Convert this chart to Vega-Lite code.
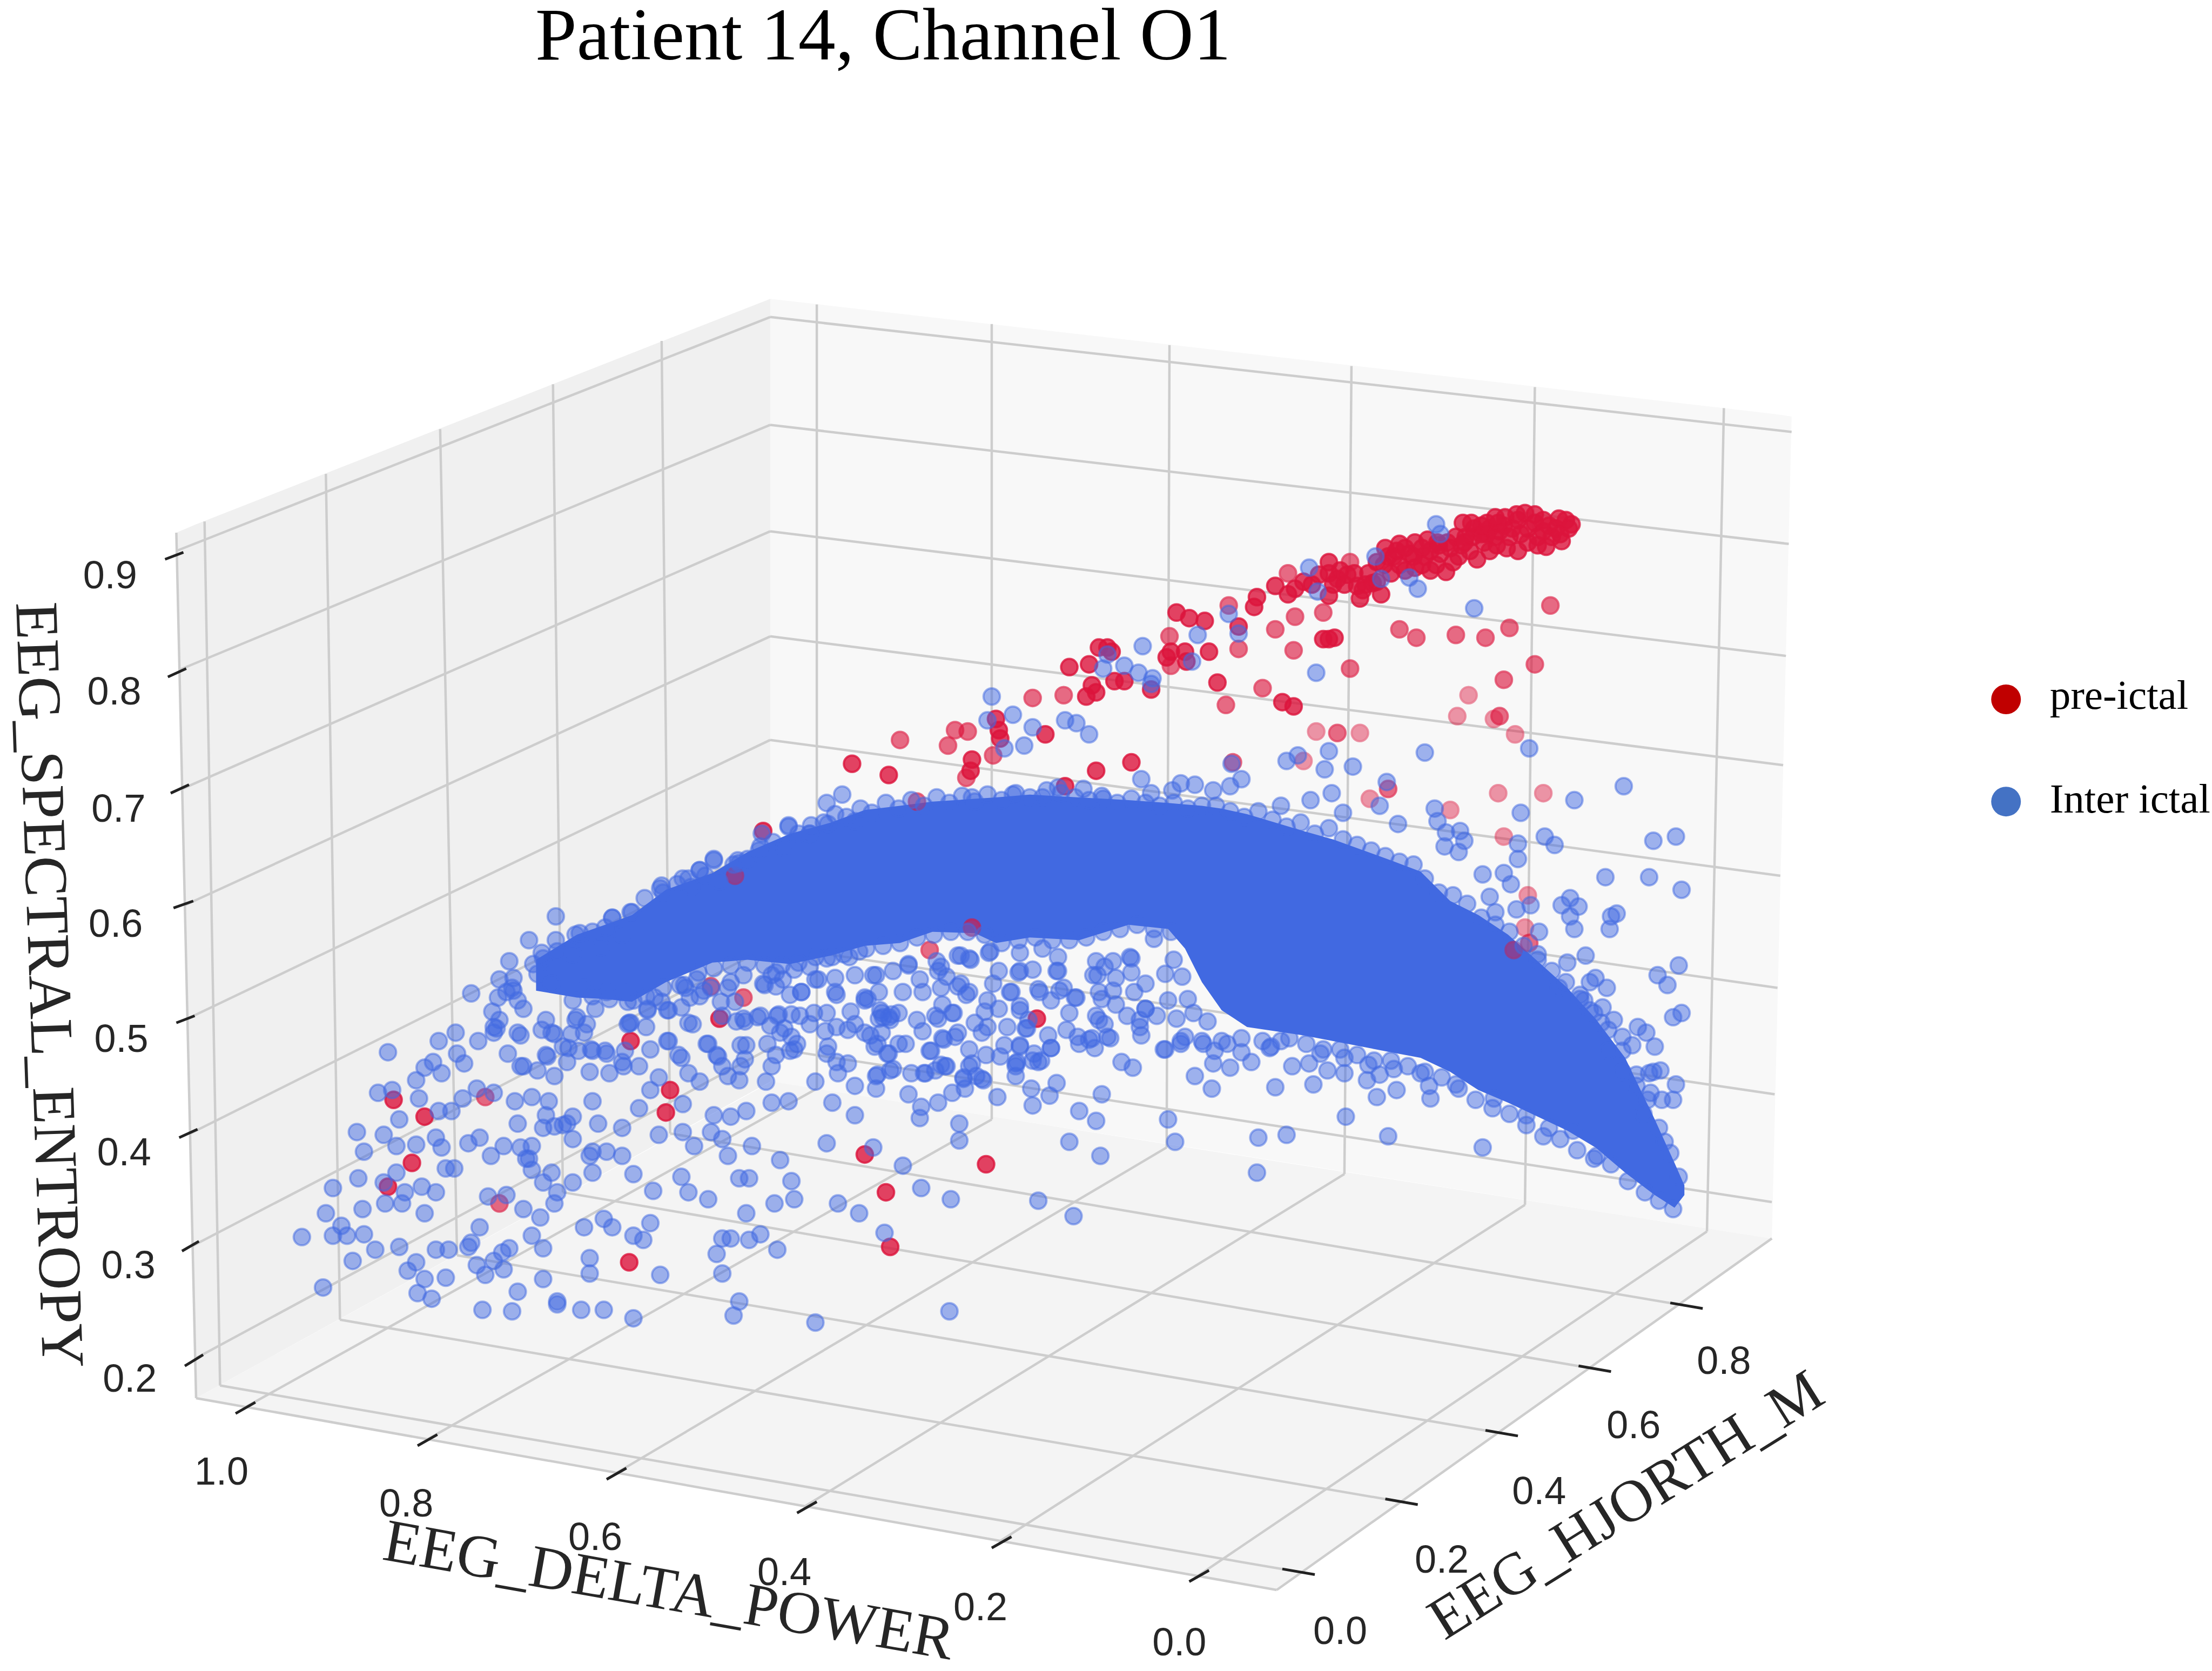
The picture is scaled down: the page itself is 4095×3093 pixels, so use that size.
{"$schema":"https://vega.github.io/schema/vega-lite/v6.json","width":4095,"height":3093,"autosize":{"type":"fit","contains":"padding"},"padding":0,"background":"white","config":{"view":{"stroke":null}},
"datasets":{
"panes":[{"pane":"left","x":125,"y":375,"y2":375},{"pane":"left","x":139,"y":369,"y2":993},{"pane":"left","x":546,"y":208,"y2":767},{"pane":"right","x":546,"y":208,"y2":767},{"pane":"right","x":1256,"y":290,"y2":879},{"pane":"right","x":1270,"y":292,"y2":292},{"pane":"floor","x":139,"y":993,"y2":993},{"pane":"floor","x":547,"y":767,"y2":1066},{"pane":"floor","x":905,"y":824,"y2":1130},{"pane":"floor","x":1256,"y":879,"y2":879}],
"grid":[{"x":125,"y":388,"x2":546,"y2":221},{"x":127,"y":473,"x2":546,"y2":298},{"x":129,"y":558,"x2":546,"y2":374},{"x":131,"y":641,"x2":546,"y2":449},{"x":133,"y":722,"x2":546,"y2":523},{"x":135,"y":804,"x2":546,"y2":597},{"x":137,"y":884,"x2":546,"y2":670},{"x":138,"y":965,"x2":546,"y2":743},
{"x":546,"y":221,"x2":1270,"y2":303},{"x":546,"y":298,"x2":1268,"y2":383},{"x":546,"y":374,"x2":1266,"y2":463},{"x":546,"y":449,"x2":1264,"y2":541},{"x":546,"y":523,"x2":1262,"y2":620},{"x":546,"y":597,"x2":1260,"y2":700},{"x":546,"y":670,"x2":1258,"y2":776},{"x":546,"y":743,"x2":1256,"y2":853},
{"x":145,"y":367,"x2":156,"y2":984},{"x":231,"y":333,"x2":241,"y2":937},{"x":312,"y":301,"x2":324,"y2":891},{"x":392,"y":269,"x2":399,"y2":846},{"x":469,"y":238,"x2":475,"y2":804},
{"x":579,"y":212,"x2":579,"y2":772},{"x":703,"y":226,"x2":703,"y2":794},{"x":829,"y":241,"x2":827,"y2":814},{"x":958,"y":256,"x2":953,"y2":833},{"x":1088,"y":271,"x2":1081,"y2":855},{"x":1222,"y":286,"x2":1210,"y2":874},
{"x":173,"y":1000,"x2":579,"y2":772},{"x":302,"y":1023,"x2":703,"y2":794},{"x":436,"y":1047,"x2":827,"y2":814},{"x":571,"y":1070,"x2":953,"y2":833},{"x":709,"y":1095,"x2":1081,"y2":855},{"x":849,"y":1120,"x2":1210,"y2":874},
{"x":920,"y":1117,"x2":156,"y2":984},{"x":993,"y":1067,"x2":241,"y2":937},{"x":1064,"y":1018,"x2":324,"y2":891},{"x":1130,"y":972,"x2":399,"y2":846},{"x":1195,"y":927,"x2":475,"y2":804},
{"x":125,"y":375,"x2":139,"y2":993},{"x":139,"y":993,"x2":905,"y2":1130},{"x":905,"y":1130,"x2":1256,"y2":879}],
"ticks":[{"x":117,"y":394,"x2":130,"y2":389},{"x":119,"y":478,"x2":132,"y2":472},{"x":121,"y":561,"x2":134,"y2":555},{"x":123,"y":643,"x2":137,"y2":638},{"x":125,"y":725,"x2":138,"y2":720},{"x":127,"y":807,"x2":140,"y2":801},{"x":129,"y":888,"x2":141,"y2":881},{"x":131,"y":970,"x2":144,"y2":962},
{"x":167,"y":1004,"x2":181,"y2":996},{"x":296,"y":1027,"x2":310,"y2":1019},{"x":430,"y":1051,"x2":444,"y2":1043},{"x":565,"y":1075,"x2":579,"y2":1067},{"x":703,"y":1100,"x2":717,"y2":1092},{"x":843,"y":1124,"x2":857,"y2":1116},
{"x":909,"y":1115,"x2":932,"y2":1119},{"x":982,"y":1065,"x2":1005,"y2":1069},{"x":1053,"y":1016,"x2":1076,"y2":1020},{"x":1119,"y":970,"x2":1142,"y2":974},{"x":1184,"y":925,"x2":1207,"y2":929}],
"tickLabels":[{"x":78,"y":403,"label":"0.9"},{"x":81,"y":486,"label":"0.8"},{"x":84,"y":570,"label":"0.7"},{"x":82,"y":652,"label":"0.6"},{"x":86,"y":734,"label":"0.5"},{"x":88,"y":815,"label":"0.4"},{"x":91,"y":896,"label":"0.3"},{"x":92,"y":977,"label":"0.2"},
{"x":157,"y":1043,"label":"1.0"},{"x":288,"y":1066,"label":"0.8"},{"x":422,"y":1090,"label":"0.6"},{"x":556,"y":1115,"label":"0.4"},{"x":695,"y":1140,"label":"0.2"},{"x":836,"y":1165,"label":"0.0"},
{"x":1222,"y":964,"label":"0.8"},{"x":1158,"y":1010,"label":"0.6"},{"x":1091,"y":1057,"label":"0.4"},{"x":1022,"y":1106,"label":"0.2"},{"x":950,"y":1157,"label":"0.0"}],
"dense":[{"x":380,"y":680,"y2":702},{"x":409,"y":662,"y2":707},{"x":429,"y":655,"y2":708},{"x":448,"y":648,"y2":710},{"x":472,"y":630,"y2":696},{"x":505,"y":618,"y2":682},{"x":530,"y":603,"y2":680},{"x":560,"y":590,"y2":683},{"x":589,"y":582,"y2":677},{"x":613,"y":573,"y2":670},{"x":638,"y":570,"y2":668},{"x":661,"y":567,"y2":660},{"x":691,"y":565,"y2":661},{"x":706,"y":564,"y2":668},{"x":730,"y":562,"y2":664},{"x":765,"y":564,"y2":666},{"x":800,"y":566,"y2":655},{"x":828,"y":568,"y2":658},{"x":840,"y":569,"y2":672},{"x":852,"y":570,"y2":696},{"x":866,"y":572,"y2":716},{"x":884,"y":576,"y2":728},{"x":924,"y":588,"y2":734},{"x":945,"y":594,"y2":738},{"x":986,"y":609,"y2":746},{"x":1007,"y":617,"y2":750},{"x":1028,"y":638,"y2":760},{"x":1048,"y":648,"y2":773},{"x":1069,"y":662,"y2":782},{"x":1111,"y":700,"y2":802},{"x":1131,"y":722,"y2":814},{"x":1152,"y":750,"y2":832},{"x":1173,"y":794,"y2":848},{"x":1187,"y":825,"y2":857},{"x":1194,"y":841,"y2":848}],
"preictal":[{"x":1114,"y":369,"depth":2},{"x":1105,"y":365,"depth":2},{"x":1094,"y":366,"depth":2},{"x":1081,"y":361,"depth":2},{"x":1067,"y":364,"depth":2},{"x":1054,"y":368,"depth":2},{"x":1037,"y":368,"depth":2},{"x":1103,"y":372,"depth":2},{"x":1094,"y":374,"depth":2},{"x":1107,"y":381,"depth":2},{"x":1096,"y":385,"depth":2},{"x":1083,"y":382,"depth":2},{"x":1076,"y":388,"depth":2},{"x":1083,"y":372,"depth":2},{"x":1072,"y":372,"depth":2},{"x":1063,"y":374,"depth":2},{"x":1054,"y":376,"depth":2},{"x":1045,"y":372,"depth":2},{"x":1039,"y":378,"depth":2},{"x":1052,"y":382,"depth":2},{"x":1061,"y":384,"depth":2},{"x":1047,"y":394,"depth":2},{"x":1036,"y":384,"depth":2},{"x":1028,"y":386,"depth":2},{"x":1019,"y":382,"depth":2},{"x":1012,"y":380,"depth":2},{"x":1003,"y":382,"depth":2},{"x":992,"y":383,"depth":2},{"x":982,"y":386,"depth":2},{"x":988,"y":392,"depth":2},{"x":999,"y":390,"depth":2},{"x":1010,"y":392,"depth":2},{"x":1021,"y":390,"depth":2},{"x":1025,"y":403,"depth":2},{"x":1014,"y":402,"depth":2},{"x":1003,"y":400,"depth":2},{"x":992,"y":398,"depth":2},{"x":981,"y":398,"depth":2},{"x":970,"y":404,"depth":2},{"x":979,"y":419,"depth":2},{"x":964,"y":422,"depth":2},{"x":973,"y":411,"depth":2},{"x":962,"y":413,"depth":2},{"x":957,"y":396,"depth":1},{"x":942,"y":396,"depth":2},{"x":942,"y":404,"depth":2},{"x":948,"y":408,"depth":2},{"x":953,"y":412,"depth":2},{"x":924,"y":410,"depth":2},{"x":913,"y":404,"depth":1},{"x":904,"y":413,"depth":2},{"x":913,"y":419,"depth":2},{"x":918,"y":415,"depth":2},{"x":942,"y":420,"depth":2},{"x":938,"y":432,"depth":1},{"x":891,"y":421,"depth":2},{"x":889,"y":428,"depth":2},{"x":871,"y":427,"depth":1},{"x":918,"y":435,"depth":1},{"x":904,"y":444,"depth":1},{"x":878,"y":442,"depth":2},{"x":878,"y":458,"depth":1},{"x":917,"y":459,"depth":1},{"x":938,"y":451,"depth":2},{"x":946,"y":450,"depth":2},{"x":942,"y":451,"depth":2},{"x":834,"y":432,"depth":2},{"x":843,"y":436,"depth":2},{"x":854,"y":438,"depth":2},{"x":857,"y":460,"depth":2},{"x":840,"y":460,"depth":2},{"x":830,"y":460,"depth":2},{"x":829,"y":449,"depth":1},{"x":827,"y":464,"depth":2},{"x":830,"y":470,"depth":1},{"x":841,"y":467,"depth":2},{"x":785,"y":457,"depth":2},{"x":779,"y":457,"depth":2},{"x":788,"y":460,"depth":2},{"x":772,"y":469,"depth":2},{"x":758,"y":471,"depth":2},{"x":790,"y":481,"depth":2},{"x":797,"y":481,"depth":2},{"x":774,"y":484,"depth":2},{"x":777,"y":489,"depth":2},{"x":770,"y":492,"depth":2},{"x":816,"y":487,"depth":2},{"x":754,"y":491,"depth":1},{"x":732,"y":493,"depth":1},{"x":863,"y":482,"depth":2},{"x":895,"y":486,"depth":1},{"x":869,"y":498,"depth":1},{"x":909,"y":496,"depth":2},{"x":917,"y":499,"depth":2},{"x":957,"y":472,"depth":1},{"x":1088,"y":469,"depth":1},{"x":1066,"y":480,"depth":1},{"x":1041,"y":491,"depth":0},{"x":1033,"y":506,"depth":0},{"x":1059,"y":508,"depth":0},{"x":1063,"y":506,"depth":1},{"x":1074,"y":519,"depth":0},{"x":992,"y":444,"depth":1},{"x":1004,"y":450,"depth":1},{"x":1032,"y":448,"depth":1},{"x":1053,"y":450,"depth":1},{"x":1070,"y":443,"depth":1},{"x":1099,"y":427,"depth":1},{"x":706,"y":508,"depth":2},{"x":708,"y":516,"depth":2},{"x":709,"y":522,"depth":2},{"x":677,"y":516,"depth":1},{"x":686,"y":517,"depth":1},{"x":672,"y":527,"depth":1},{"x":741,"y":519,"depth":2},{"x":704,"y":534,"depth":1},{"x":689,"y":537,"depth":2},{"x":688,"y":545,"depth":2},{"x":685,"y":550,"depth":1},{"x":755,"y":556,"depth":2},{"x":777,"y":545,"depth":2},{"x":802,"y":539,"depth":2},{"x":924,"y":538,"depth":0},{"x":933,"y":517,"depth":0},{"x":948,"y":518,"depth":1},{"x":964,"y":518,"depth":0},{"x":971,"y":565,"depth":0},{"x":984,"y":558,"depth":1},{"x":1028,"y":573,"depth":0},{"x":1062,"y":561,"depth":0},{"x":1094,"y":561,"depth":0},{"x":1066,"y":592,"depth":0},{"x":874,"y":539,"depth":1},{"x":1083,"y":634,"depth":0},{"x":1081,"y":657,"depth":0},{"x":1084,"y":668,"depth":1},{"x":1073,"y":673,"depth":0},{"x":638,"y":523,"depth":1},{"x":630,"y":548,"depth":2},{"x":650,"y":567,"depth":1},{"x":604,"y":540,"depth":2},{"x":541,"y":588,"depth":2},{"x":521,"y":620,"depth":0},{"x":504,"y":699,"depth":1},{"x":527,"y":707,"depth":1},{"x":510,"y":722,"depth":2},{"x":447,"y":738,"depth":2},{"x":475,"y":773,"depth":2},{"x":472,"y":789,"depth":2},{"x":279,"y":780,"depth":2},{"x":301,"y":792,"depth":2},{"x":344,"y":778,"depth":1},{"x":292,"y":825,"depth":2},{"x":275,"y":842,"depth":2},{"x":354,"y":854,"depth":1},{"x":446,"y":896,"depth":2},{"x":613,"y":819,"depth":2},{"x":699,"y":826,"depth":2},{"x":628,"y":846,"depth":2},{"x":631,"y":885,"depth":2},{"x":735,"y":722,"depth":2},{"x":659,"y":673,"depth":1},{"x":689,"y":657,"depth":1},
{"x":976,"y":396,"depth":2},{"x":984,"y":392,"depth":2},{"x":990,"y":388,"depth":2},{"x":996,"y":386,"depth":2},{"x":1002,"y":392,"depth":2},{"x":1008,"y":386,"depth":2},{"x":1014,"y":388,"depth":2},{"x":1020,"y":384,"depth":2},{"x":1026,"y":382,"depth":2},{"x":1032,"y":378,"depth":2},{"x":1038,"y":382,"depth":2},{"x":1044,"y":378,"depth":2},{"x":1050,"y":376,"depth":2},{"x":1056,"y":372,"depth":2},{"x":1060,"y":378,"depth":2},{"x":1066,"y":370,"depth":2},{"x":1070,"y":378,"depth":2},{"x":1076,"y":366,"depth":2},{"x":1078,"y":376,"depth":2},{"x":1088,"y":368,"depth":2},{"x":1090,"y":378,"depth":2},{"x":1098,"y":370,"depth":2},{"x":1100,"y":378,"depth":2},{"x":1110,"y":366,"depth":2},{"x":1042,"y":388,"depth":2},{"x":1034,"y":392,"depth":2},{"x":1030,"y":396,"depth":2},{"x":1018,"y":398,"depth":2},{"x":1008,"y":398,"depth":2},{"x":996,"y":402,"depth":2},{"x":986,"y":404,"depth":2},{"x":976,"y":410,"depth":2},{"x":968,"y":412,"depth":2},{"x":966,"y":416,"depth":2},{"x":1056,"y":388,"depth":2},{"x":1068,"y":386,"depth":2},{"x":1062,"y":368,"depth":2},{"x":1050,"y":370,"depth":2},{"x":1043,"y":368,"depth":2},{"x":1088,"y":362,"depth":2},{"x":1075,"y":362,"depth":2},{"x":1060,"y":364,"depth":2},{"x":1112,"y":372,"depth":2},{"x":1106,"y":376,"depth":2},{"x":1090,"y":384,"depth":2},{"x":950,"y":402,"depth":2},{"x":945,"y":412,"depth":2},{"x":935,"y":405,"depth":2},{"x":930,"y":412,"depth":2},{"x":955,"y":405,"depth":2},{"x":960,"y":404,"depth":2}],
"interictal":[{"x":214,"y":878},{"x":229,"y":914},{"x":231,"y":861},{"x":236,"y":843},{"x":236,"y":877},{"x":242,"y":870},{"x":246,"y":877},{"x":258,"y":876},{"x":257,"y":858},{"x":254,"y":836},{"x":253,"y":803},{"x":258,"y":817},{"x":272,"y":805},{"x":281,"y":813},{"x":295,"y":812},{"x":309,"y":807},{"x":313,"y":814},{"x":272,"y":839},{"x":273,"y":854},{"x":281,"y":832},{"x":287,"y":846},{"x":285,"y":854},{"x":299,"y":842},{"x":301,"y":861},{"x":309,"y":846},{"x":316,"y":829},{"x":322,"y":829},{"x":332,"y":811},{"x":340,"y":807},{"x":348,"y":820},{"x":357,"y":813},{"x":369,"y":814},{"x":377,"y":813},{"x":375,"y":822},{"x":385,"y":800},{"x":393,"y":799},{"x":399,"y":798},{"x":406,"y":792},{"x":420,"y":817},{"x":424,"y":797},{"x":441,"y":800},{"x":430,"y":817},{"x":441,"y":820},{"x":449,"y":833},{"x":463,"y":845},{"x":488,"y":846},{"x":502,"y":851},{"x":524,"y":836},{"x":531,"y":836},{"x":549,"y":854},{"x":563,"y":851},{"x":561,"y":838},{"x":553,"y":823},{"x":533,"y":813},{"x":516,"y":820},{"x":492,"y":813},{"x":483,"y":835},{"x":484,"y":803},{"x":467,"y":805},{"x":461,"y":773},{"x":467,"y":764},{"x":453,"y":786},{"x":484,"y":783},{"x":506,"y":791},{"x":518,"y":792},{"x":504,"y":803},{"x":512,"y":808},{"x":496,"y":767},{"x":516,"y":763},{"x":524,"y":766},{"x":547,"y":782},{"x":559,"y":781},{"x":529,"y":788},{"x":543,"y":767},{"x":525,"y":741},{"x":508,"y":748},{"x":502,"y":740},{"x":473,"y":738},{"x":483,"y":750},{"x":447,"y":725},{"x":430,"y":747},{"x":420,"y":745},{"x":410,"y":745},{"x":399,"y":742},{"x":387,"y":748},{"x":369,"y":756},{"x":381,"y":759},{"x":393,"y":763},{"x":418,"y":760},{"x":432,"y":761},{"x":389,"y":781},{"x":367,"y":797},{"x":387,"y":791},{"x":420,"y":781},{"x":402,"y":797},{"x":268,"y":775},{"x":278,"y":773},{"x":283,"y":794},{"x":311,"y":788},{"x":320,"y":788},{"x":297,"y":779},{"x":295,"y":766},{"x":301,"y":757},{"x":311,"y":738},{"x":307,"y":753},{"x":313,"y":761},{"x":328,"y":779},{"x":338,"y":772},{"x":350,"y":775},{"x":365,"y":781},{"x":377,"y":778},{"x":324,"y":747},{"x":323,"y":732},{"x":329,"y":754},{"x":339,"y":738},{"x":350,"y":732},{"x":354,"y":723},{"x":334,"y":704},{"x":354,"y":694},{"x":361,"y":681},{"x":375,"y":666},{"x":394,"y":649},{"x":434,"y":650},{"x":447,"y":646},{"x":275,"y":746},{"x":266,"y":887},{"x":250,"y":895},{"x":283,"y":885},{"x":289,"y":902},{"x":295,"y":896},{"x":301,"y":908},{"x":316,"y":907},{"x":296,"y":918},{"x":306,"y":922},{"x":309,"y":887},{"x":318,"y":887},{"x":332,"y":885},{"x":340,"y":871},{"x":334,"y":882},{"x":338,"y":898},{"x":344,"y":905},{"x":350,"y":895},{"x":357,"y":901},{"x":361,"y":886},{"x":356,"y":889},{"x":367,"y":917},{"x":342,"y":930},{"x":363,"y":931},{"x":385,"y":886},{"x":377,"y":877},{"x":385,"y":908},{"x":395,"y":926},{"x":395,"y":924},{"x":412,"y":930},{"x":428,"y":930},{"x":449,"y":936},{"x":418,"y":893},{"x":418,"y":904},{"x":468,"y":905},{"x":414,"y":871},{"x":428,"y":865},{"x":434,"y":871},{"x":449,"y":877},{"x":456,"y":880},{"x":461,"y":868},{"x":512,"y":904},{"x":508,"y":890},{"x":512,"y":879},{"x":518,"y":879},{"x":531,"y":880},{"x":539,"y":876},{"x":551,"y":887},{"x":524,"y":924},{"x":520,"y":934},{"x":578,"y":939},{"x":594,"y":854},{"x":609,"y":861},{"x":529,"y":861},{"x":383,"y":864},{"x":371,"y":858},{"x":395,"y":846},{"x":393,"y":854},{"x":406,"y":839},{"x":420,"y":832},{"x":418,"y":820},{"x":406,"y":808},{"x":391,"y":832},{"x":385,"y":839},{"x":377,"y":830},{"x":373,"y":822},{"x":359,"y":848},{"x":346,"y":849},
{"x":606,"y":770},{"x":586,"y":747},{"x":594,"y":761},{"x":606,"y":726},{"x":574,"y":726},{"x":553,"y":732},{"x":563,"y":744},{"x":578,"y":767},{"x":590,"y":782},{"x":606,"y":791},{"x":586,"y":811},{"x":586,"y":718},{"x":567,"y":720},{"x":551,"y":720},{"x":541,"y":697},{"x":568,"y":703},{"x":592,"y":703},{"x":606,"y":691},{"x":555,"y":694},{"x":578,"y":694},{"x":527,"y":722},{"x":539,"y":720},{"x":512,"y":720},{"x":488,"y":725},{"x":473,"y":716},{"x":486,"y":700},{"x":496,"y":706},{"x":516,"y":700},{"x":459,"y":716},{"x":445,"y":726},{"x":422,"y":715},{"x":408,"y":723},{"x":387,"y":723},{"x":367,"y":732},{"x":391,"y":732},{"x":414,"y":732},{"x":352,"y":729},{"x":402,"y":753},{"x":441,"y":753},{"x":453,"y":756},{"x":488,"y":761},{"x":461,"y":744},{"x":512,"y":756},{"x":525,"y":756},{"x":547,"y":756},{"x":363,"y":700},{"x":367,"y":709},{"x":359,"y":703},{"x":381,"y":690},{"x":385,"y":679},{"x":395,"y":674},{"x":408,"y":662},{"x":406,"y":676},{"x":426,"y":671},{"x":441,"y":662},{"x":457,"y":636},{"x":469,"y":627},{"x":484,"y":622},{"x":496,"y":616},{"x":506,"y":609},{"x":524,"y":611},{"x":539,"y":599},{"x":559,"y":584},{"x":586,"y":568},{"x":597,"y":562},{"x":574,"y":590},{"x":391,"y":697},{"x":371,"y":715},{"x":414,"y":700},{"x":430,"y":703},{"x":449,"y":709},{"x":469,"y":710},{"x":406,"y":709},{"x":441,"y":703},{"x":504,"y":700},{"x":527,"y":691},{"x":547,"y":691},{"x":574,"y":685},{"x":598,"y":676},{"x":609,"y":674},{"x":586,"y":679},{"x":563,"y":687},
{"x":353,"y":707},{"x":364,"y":693},{"x":364,"y":702},{"x":349,"y":717},{"x":350,"y":728},{"x":360,"y":747},{"x":369,"y":734},{"x":384,"y":730},{"x":393,"y":733},{"x":388,"y":749},{"x":371,"y":756},{"x":403,"y":743},{"x":405,"y":733},{"x":409,"y":721},{"x":416,"y":726},{"x":419,"y":744},{"x":429,"y":745},{"x":442,"y":756},{"x":443,"y":745},{"x":446,"y":725},{"x":458,"y":728},{"x":459,"y":715},{"x":474,"y":716},{"x":483,"y":714},{"x":491,"y":726},{"x":474,"y":738},{"x":481,"y":748},{"x":501,"y":740},{"x":509,"y":749},{"x":529,"y":741},{"x":528,"y":751},{"x":544,"y":740},{"x":550,"y":748},{"x":565,"y":740},{"x":560,"y":745},{"x":585,"y":731},{"x":587,"y":742},{"x":593,"y":753},{"x":601,"y":754},{"x":601,"y":730},{"x":613,"y":732},{"x":622,"y":740},{"x":630,"y":721},{"x":624,"y":716},{"x":603,"y":717},{"x":593,"y":728},{"x":613,"y":707},{"x":593,"y":705},{"x":577,"y":718},{"x":561,"y":719},{"x":552,"y":719},{"x":537,"y":721},{"x":522,"y":724},{"x":528,"y":724},{"x":546,"y":727},{"x":556,"y":729},{"x":561,"y":735},{"x":580,"y":694},{"x":592,"y":693},{"x":550,"y":689},{"x":550,"y":699},{"x":542,"y":698},{"x":560,"y":705},{"x":568,"y":703},{"x":518,"y":696},{"x":511,"y":710},{"x":521,"y":710},{"x":485,"y":698},{"x":495,"y":689},{"x":464,"y":707},{"x":499,"y":702},{"x":489,"y":707},{"x":506,"y":608},{"x":523,"y":609},{"x":496,"y":616},{"x":488,"y":622},{"x":468,"y":629},{"x":559,"y":585},{"x":574,"y":590},{"x":448,"y":646},{"x":434,"y":650},{"x":429,"y":657},{"x":411,"y":661},{"x":394,"y":666},{"x":384,"y":675},{"x":378,"y":683},{"x":420,"y":660},{"x":587,"y":583},{"x":606,"y":581},{"x":540,"y":590},
{"x":1151,"y":556},{"x":1116,"y":566},{"x":1010,"y":532},{"x":1084,"y":529},{"x":942,"y":531},{"x":912,"y":538},{"x":920,"y":534},{"x":939,"y":544},{"x":959,"y":542},{"x":873,"y":540},{"x":880,"y":551},{"x":872,"y":556},{"x":860,"y":559},{"x":847,"y":555},{"x":837,"y":554},{"x":831,"y":559},{"x":816,"y":561},{"x":809,"y":551},{"x":768,"y":558},{"x":781,"y":563},{"x":929,"y":566},{"x":944,"y":561},{"x":983,"y":553},{"x":978,"y":570},{"x":1017,"y":572},{"x":1078,"y":575},{"x":952,"y":575},{"x":908,"y":570},{"x":991,"y":583},{"x":1019,"y":581},{"x":1025,"y":589},{"x":1035,"y":588},{"x":1038,"y":595},{"x":1076,"y":597},{"x":1076,"y":608},{"x":1024,"y":599},{"x":1034,"y":603},{"x":1095,"y":592},{"x":1102,"y":598},{"x":1172,"y":595},{"x":1188,"y":592},{"x":1051,"y":619},{"x":1066,"y":618},{"x":1071,"y":626},{"x":1138,"y":621},{"x":1169,"y":621},{"x":1192,"y":630},{"x":1056,"y":635},{"x":1060,"y":646},{"x":1075,"y":644},{"x":1085,"y":641},{"x":1107,"y":641},{"x":1113,"y":636},{"x":1119,"y":642},{"x":1113,"y":649},{"x":1146,"y":647},{"x":1142,"y":649},{"x":1116,"y":658},{"x":1141,"y":658},{"x":1091,"y":660},{"x":1124,"y":677},{"x":1090,"y":680},{"x":1111,"y":682},{"x":1175,"y":691},{"x":1190,"y":684},{"x":1182,"y":698},{"x":1131,"y":693},{"x":1127,"y":696},{"x":1139,"y":700},{"x":1192,"y":718},{"x":1186,"y":721},{"x":1161,"y":728},{"x":1167,"y":732},{"x":1173,"y":742},{"x":1177,"y":759},{"x":1188,"y":769},{"x":1186,"y":780},{"x":1169,"y":761},{"x":1157,"y":741},{"x":1144,"y":723},{"x":1127,"y":716},{"x":1136,"y":714},{"x":1123,"y":709},{"x":1140,"y":745},{"x":1150,"y":760},{"x":1160,"y":770},{"x":1165,"y":790},{"x":1170,"y":775},{"x":1178,"y":780},{"x":1180,"y":810},{"x":1172,"y":760},{"x":1150,"y":735},{"x":1135,"y":725},{"x":1120,"y":705},{"x":1105,"y":700},
{"x":1132,"y":820},{"x":1051,"y":814},{"x":984,"y":806},{"x":912,"y":805},{"x":892,"y":807},{"x":891,"y":832},{"x":833,"y":810},{"x":828,"y":794},{"x":780,"y":820},{"x":758,"y":810},{"x":777,"y":795},{"x":765,"y":788},{"x":781,"y":776},{"x":749,"y":768},{"x":731,"y":772},{"x":732,"y":784},{"x":744,"y":777},{"x":707,"y":778},{"x":680,"y":797},{"x":680,"y":809},{"x":652,"y":793},{"x":644,"y":776},{"x":665,"y":782},{"x":675,"y":775},{"x":683,"y":764},{"x":696,"y":765},{"x":720,"y":756},{"x":736,"y":753},{"x":795,"y":753},{"x":803,"y":757},{"x":847,"y":763},{"x":859,"y":772},{"x":904,"y":771},{"x":931,"y":769},{"x":953,"y":761},{"x":976,"y":778},{"x":990,"y":773},{"x":1014,"y":779},{"x":954,"y":792},{"x":969,"y":766},{"x":978,"y":762},{"x":941,"y":759},{"x":928,"y":754},{"x":872,"y":757},{"x":860,"y":754},{"x":887,"y":753},{"x":901,"y":742},{"x":825,"y":744},{"x":837,"y":738},{"x":621,"y":772},{"x":631,"y":759},{"x":656,"y":761},{"x":671,"y":756},{"x":687,"y":756},{"x":699,"y":748},{"x":709,"y":749},{"x":721,"y":753},{"x":733,"y":747},{"x":745,"y":743},{"x":723,"y":741},{"x":621,"y":763},{"x":617,"y":734},{"x":637,"y":740},{"x":659,"y":745},{"x":669,"y":737},{"x":654,"y":731},{"x":640,"y":703},{"x":654,"y":703},{"x":625,"y":718},{"x":623,"y":722},{"x":631,"y":723},{"x":613,"y":709},{"x":665,"y":722},{"x":675,"y":718},{"x":691,"y":725},{"x":714,"y":728},{"x":700,"y":709},{"x":723,"y":713},{"x":737,"y":703},{"x":754,"y":700},{"x":762,"y":707},{"x":775,"y":691},{"x":802,"y":679},{"x":679,"y":677},{"x":687,"y":679},{"x":723,"y":675},{"x":739,"y":672},{"x":644,"y":683},{"x":621,"y":691},{"x":667,"y":685},{"x":681,"y":697},{"x":702,"y":674},{"x":723,"y":688},{"x":750,"y":688},{"x":777,"y":681},{"x":791,"y":693},{"x":818,"y":665},{"x":812,"y":715},{"x":808,"y":723},{"x":785,"y":735},{"x":772,"y":737},{"x":764,"y":735},{"x":743,"y":734},{"x":729,"y":723},{"x":727,"y":729},{"x":779,"y":703},{"x":791,"y":712},{"x":804,"y":703},{"x":812,"y":697},{"x":828,"y":709},{"x":820,"y":720},{"x":799,"y":720},{"x":779,"y":723},{"x":758,"y":718},{"x":745,"y":709},{"x":716,"y":703},{"x":704,"y":697},{"x":687,"y":703},{"x":667,"y":700},{"x":652,"y":694},{"x":633,"y":688},{"x":623,"y":703},{"x":637,"y":718},{"x":650,"y":723},{"x":625,"y":732},{"x":679,"y":732},{"x":696,"y":732},{"x":712,"y":741},{"x":687,"y":744},{"x":667,"y":755},{"x":646,"y":761},{"x":629,"y":747},{"x":916,"y":756},{"x":936,"y":747},{"x":953,"y":750},{"x":970,"y":755},{"x":988,"y":758},{"x":1007,"y":761},{"x":1013,"y":770},{"x":1032,"y":769},{"x":1059,"y":779},{"x":1082,"y":791},{"x":1098,"y":800},{"x":1115,"y":802},{"x":640,"y":827},{"x":653,"y":843},{"x":674,"y":851},{"x":736,"y":852},{"x":761,"y":863},{"x":627,"y":875},{"x":673,"y":931},{"x":619,"y":814},
{"x":644,"y":684},{"x":619,"y":691},{"x":664,"y":681},{"x":665,"y":688},{"x":681,"y":677},{"x":688,"y":680},{"x":671,"y":692},{"x":679,"y":699},{"x":685,"y":705},{"x":701,"y":675},{"x":708,"y":688},{"x":722,"y":689},{"x":732,"y":687},{"x":749,"y":688},{"x":750,"y":678},{"x":736,"y":701},{"x":717,"y":703},{"x":751,"y":702},{"x":763,"y":707},{"x":778,"y":691},{"x":783,"y":685},{"x":789,"y":681},{"x":801,"y":678},{"x":802,"y":689},{"x":789,"y":702},{"x":781,"y":708},{"x":812,"y":715},{"x":808,"y":728},{"x":809,"y":734},{"x":777,"y":720},{"x":783,"y":726},{"x":787,"y":736},{"x":774,"y":736},{"x":776,"y":743},{"x":765,"y":740},{"x":756,"y":730},{"x":745,"y":743},{"x":728,"y":729},{"x":723,"y":742},{"x":700,"y":728},{"x":698,"y":717},{"x":708,"y":715},{"x":723,"y":716},{"x":677,"y":735},{"x":668,"y":736},{"x":676,"y":718},{"x":668,"y":712},{"x":663,"y":720},{"x":642,"y":740},{"x":660,"y":745},{"x":632,"y":719},{"x":626,"y":721},{"x":615,"y":708},{"x":620,"y":742},{"x":630,"y":747},{"x":633,"y":758},{"x":622,"y":762},{"x":655,"y":761},{"x":663,"y":759},{"x":670,"y":756},{"x":689,"y":754},{"x":720,"y":754},{"x":720,"y":763},{"x":732,"y":752},{"x":738,"y":752},{"x":683,"y":765},{"x":697,"y":766},{"x":692,"y":763},{"x":684,"y":772},{"x":653,"y":785},{"x":826,"y":744},{"x":861,"y":745},{"x":880,"y":746},{"x":837,"y":740},{"x":900,"y":743},{"x":853,"y":740},{"x":870,"y":740},{"x":840,"y":735},{"x":852,"y":738},{"x":866,"y":738},{"x":880,"y":736},{"x":895,"y":738},{"x":908,"y":738},{"x":832,"y":680},{"x":838,"y":692},{"x":842,"y":708},{"x":834,"y":722},{"x":846,"y":718},{"x":826,"y":690},{"x":856,"y":724},
{"x":1018,"y":369},{"x":1021,"y":376},{"x":975,"y":392},{"x":979,"y":408},{"x":999,"y":407},{"x":1005,"y":415},{"x":928,"y":400},{"x":934,"y":417},{"x":1045,"y":429},{"x":871,"y":433},{"x":878,"y":447},{"x":849,"y":448},{"x":810,"y":456},{"x":845,"y":467},{"x":785,"y":462},{"x":782,"y":472},{"x":797,"y":470},{"x":807,"y":475},{"x":817,"y":479},{"x":816,"y":483},{"x":703,"y":492},{"x":718,"y":505},{"x":700,"y":509},{"x":732,"y":514},{"x":755,"y":509},{"x":763,"y":511},{"x":772,"y":519},{"x":712,"y":529},{"x":726,"y":527},{"x":933,"y":475},{"x":689,"y":564},{"x":750,"y":557},{"x":718,"y":562},{"x":739,"y":564},
{"x":470,"y":632},{"x":480,"y":626},{"x":490,"y":628},{"x":500,"y":620},{"x":510,"y":624},{"x":520,"y":612},{"x":530,"y":608},{"x":538,"y":602},{"x":548,"y":596},{"x":556,"y":600},{"x":566,"y":590},{"x":575,"y":584},{"x":584,"y":582},{"x":592,"y":576},{"x":600,"y":578},{"x":610,"y":572},{"x":618,"y":575},{"x":628,"y":568},{"x":637,"y":572},{"x":646,"y":566},{"x":655,"y":570},{"x":664,"y":564},{"x":673,"y":568},{"x":682,"y":563},{"x":691,"y":567},{"x":700,"y":562},{"x":710,"y":566},{"x":720,"y":561},{"x":730,"y":564},{"x":742,"y":559},{"x":752,"y":561},{"x":762,"y":564},{"x":772,"y":566},{"x":782,"y":565},{"x":792,"y":568},{"x":802,"y":565},{"x":812,"y":568},{"x":822,"y":570},{"x":832,"y":568},{"x":842,"y":572},{"x":852,"y":570},{"x":862,"y":570},{"x":872,"y":574},{"x":882,"y":578},{"x":892,"y":574},{"x":902,"y":580},{"x":912,"y":585},{"x":922,"y":582},{"x":932,"y":590},{"x":942,"y":586},{"x":952,"y":594},{"x":962,"y":598},{"x":972,"y":602},{"x":982,"y":606},{"x":992,"y":610},{"x":1002,"y":612},{"x":1010,"y":622},{"x":1020,"y":632},{"x":1030,"y":634},{"x":1040,"y":640},{"x":1050,"y":650},{"x":1060,"y":655},{"x":1070,"y":660},{"x":1080,"y":670},{"x":1090,"y":676},{"x":1100,"y":688},{"x":1110,"y":696},{"x":1120,"y":708},{"x":1130,"y":718},{"x":1140,"y":730},{"x":1150,"y":745},{"x":1160,"y":762},{"x":1168,"y":780},{"x":1176,"y":800},{"x":1184,"y":818},{"x":1190,"y":835},
{"x":420,"y":706},{"x":432,"y":708},{"x":445,"y":710},{"x":458,"y":706},{"x":470,"y":700},{"x":482,"y":698},{"x":494,"y":694},{"x":506,"y":686},{"x":518,"y":684},{"x":530,"y":682},{"x":542,"y":684},{"x":554,"y":684},{"x":566,"y":682},{"x":578,"y":678},{"x":590,"y":678},{"x":602,"y":678},{"x":614,"y":672},{"x":626,"y":670},{"x":638,"y":668},{"x":650,"y":664},{"x":662,"y":662},{"x":674,"y":660},{"x":686,"y":660},{"x":698,"y":662},{"x":710,"y":668},{"x":722,"y":666},{"x":734,"y":664},{"x":746,"y":666},{"x":758,"y":666},{"x":770,"y":664},{"x":782,"y":660},{"x":794,"y":658},{"x":806,"y":655},{"x":818,"y":658},{"x":830,"y":660},{"x":914,"y":736},{"x":926,"y":740},{"x":938,"y":744},{"x":950,"y":744},{"x":962,"y":748},{"x":974,"y":752},{"x":986,"y":752},{"x":998,"y":756},{"x":1010,"y":760},{"x":1022,"y":764},{"x":1034,"y":772},{"x":1046,"y":780},{"x":1058,"y":786},{"x":1070,"y":790},{"x":1082,"y":798},{"x":1094,"y":806},{"x":1106,"y":808},{"x":1118,"y":816},{"x":1130,"y":822},{"x":1142,"y":826},{"x":1154,"y":838},{"x":1166,"y":846},{"x":1176,"y":852},{"x":1186,"y":858}],
"legend":[{"x":1422,"y":494,"group":"pre-ictal"},{"x":1422,"y":567,"group":"Inter ictal"}],
"legendLabels":[{"x":1453,"y":492,"group":"pre-ictal"},{"x":1453,"y":566,"group":"Inter ictal"}]
},
"encoding":{"x":{"field":"x","type":"quantitative","scale":{"domain":[0,1568],"nice":false,"zero":false},"axis":null},"y":{"field":"y","type":"quantitative","scale":{"domain":[1184,0],"nice":false,"zero":false},"axis":null}},
"layer":[
{"data":{"name":"panes"},"mark":{"type":"area","opacity":1},"encoding":{"y2":{"field":"y2"},"color":{"field":"pane","type":"nominal","scale":{"domain":["left","right","floor"],"range":["#f0f0f0","#f8f8f8","#f4f4f4"]},"legend":null}}},
{"data":{"name":"grid"},"mark":{"type":"rule","color":"#cdcdcd","strokeWidth":4.5},"encoding":{"x2":{"field":"x2"},"y2":{"field":"y2"}}},
{"data":{"name":"ticks"},"mark":{"type":"rule","color":"#222222","strokeWidth":5},"encoding":{"x2":{"field":"x2"},"y2":{"field":"y2"}}},
{"data":{"name":"dense"},"mark":{"type":"area","color":"#4169e1"},"encoding":{"y2":{"field":"y2"}}},
{"data":{"name":"preictal"},"mark":{"type":"circle","fill":"#dc143c","stroke":"#dc143c","fillOpacity":0.8,"strokeOpacity":0.8,"strokeWidth":4,"size":930},"encoding":{"opacity":{"field":"depth","type":"quantitative","scale":{"domain":[0,2],"range":[0.55,1]},"legend":null}}},
{"data":{"name":"interictal"},"mark":{"type":"circle","fill":"#4169e1","stroke":"#4169e1","fillOpacity":0.5,"strokeOpacity":0.5,"strokeWidth":4,"size":930,"opacity":1}},
{"data":{"values":[{"x":626,"y":37,"label":"Patient 14, Channel O1"}]},"mark":{"type":"text","font":"Liberation Serif","fontSize":138,"align":"center","baseline":"alphabetic","color":"#000000"},"encoding":{"text":{"field":"label"}}},
{"data":{"name":"tickLabels"},"mark":{"type":"text","font":"Liberation Sans","fontSize":72,"align":"center","baseline":"middle","dy":8,"color":"#262626"},"encoding":{"text":{"field":"label"}}},
{"data":{"values":[{"x":34,"y":698,"label":"EEG_SPECTRAL_ENTROPY"}]},"mark":{"type":"text","font":"Liberation Serif","fontSize":113,"align":"center","baseline":"middle","angle":88,"color":"#262626"},"encoding":{"text":{"field":"label"}}},
{"data":{"values":[{"x":474,"y":1131,"label":"EEG_DELTA_POWER"}]},"mark":{"type":"text","font":"Liberation Serif","fontSize":112,"align":"center","baseline":"middle","angle":10,"color":"#262626"},"encoding":{"text":{"field":"label"}}},
{"data":{"values":[{"x":1153,"y":1070,"label":"EEG_HJORTH_M"}]},"mark":{"type":"text","font":"Liberation Serif","fontSize":110,"align":"center","baseline":"middle","angle":-32,"color":"#262626"},"encoding":{"text":{"field":"label"}}},
{"data":{"name":"legend"},"mark":{"type":"circle","size":3025,"opacity":1},"encoding":{"color":{"field":"group","type":"nominal","scale":{"domain":["pre-ictal","Inter ictal"],"range":["#c00000","#4472c4"]},"legend":null}}},
{"data":{"name":"legendLabels"},"mark":{"type":"text","font":"Liberation Serif","fontSize":77,"align":"left","baseline":"middle","color":"#000000"},"encoding":{"text":{"field":"group"}}}
],
"resolve":{"scale":{"color":"independent"}}}
